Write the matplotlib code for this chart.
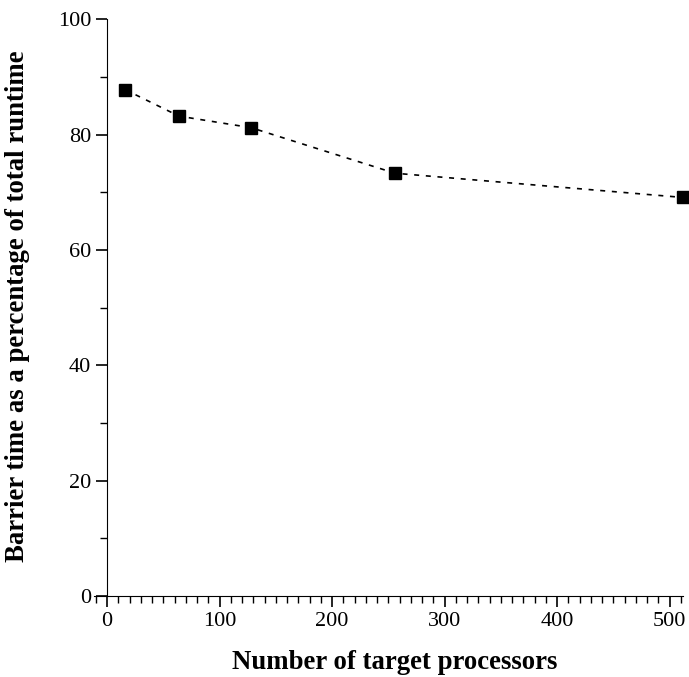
import numpy as np
import matplotlib.pyplot as plt
from matplotlib.ticker import MultipleLocator

# data
processors = [16, 64, 128, 256, 512]
barrier_pct = [87.8, 83.2, 81.2, 73.3, 69.1]

plt.rcParams['font.family'] = ['Liberation Serif', 'DejaVu Serif']

fig = plt.figure(figsize=(6.89, 6.77), dpi=100)
ax = fig.add_axes([94 / 689, 0.1196, 589 / 689, 0.852])

ax.plot(processors, barrier_pct, linestyle=(0, (3, 4)), color='black', linewidth=1.2,
        marker='s', markersize=9, markerfacecolor='black', markeredgecolor='black',
        clip_on=False)

ax.set_xlim(-11.6, 512)
ax.set_ylim(0, 100)
ax.spines['top'].set_visible(False)
ax.spines['right'].set_visible(False)
ax.spines['left'].set_position(('data', 0))
ax.spines['left'].set_bounds(0, 100)

ax.xaxis.set_major_locator(MultipleLocator(100))
ax.xaxis.set_minor_locator(MultipleLocator(10))
ax.yaxis.set_major_locator(MultipleLocator(20))
ax.yaxis.set_minor_locator(MultipleLocator(10))
ax.tick_params(which='major', direction='out', length=8, width=1.2, labelsize=16)
ax.tick_params(which='minor', direction='out', length=5, width=1.0)

ax.set_xlabel('Number of target processors', fontsize=19.3, fontweight='bold')
ax.xaxis.set_label_coords(0.51, -0.093)
ax.set_ylabel('Barrier time as a percentage of total runtime', fontsize=19.3,
              fontweight='bold')
ax.yaxis.set_label_coords(-0.108, 0.503)

fig.savefig('out.png', dpi=100)
